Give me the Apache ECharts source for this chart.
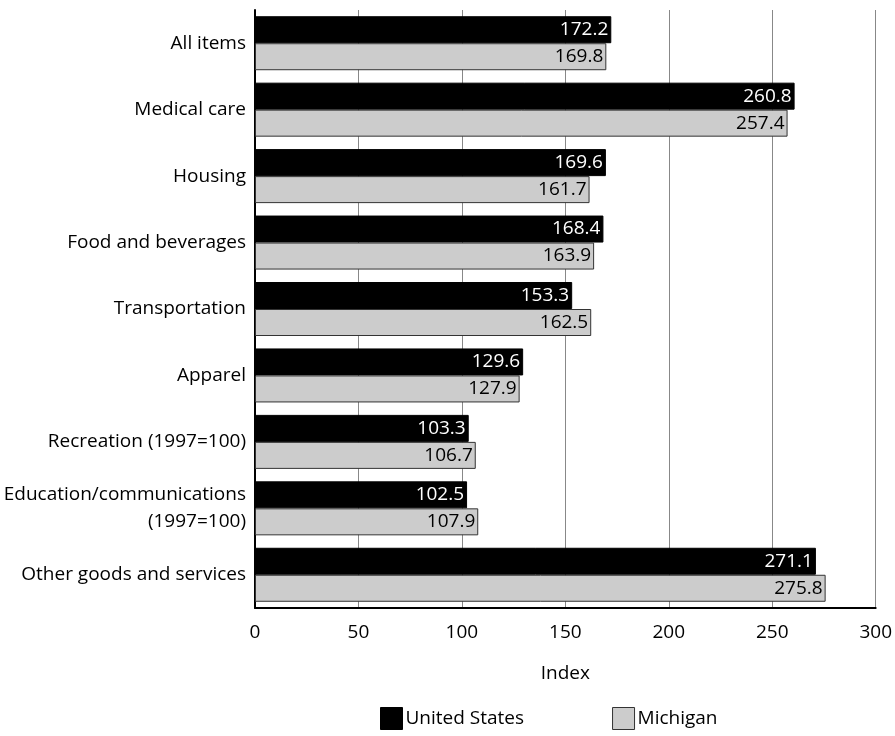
<!DOCTYPE html>
<html>
<head>
<meta charset="utf-8">
<script src="https://cdn.jsdelivr.net/npm/echarts@6/dist/echarts.min.js"></script>
<style>
html,body{margin:0;padding:0;background:#fff;}
#chart{width:895px;height:736px;}
</style>
</head>
<body>
<div id="chart"></div>
<script>
// Consumer price index by expenditure category
const categories = [
  'All items',
  'Medical care',
  'Housing',
  'Food and beverages',
  'Transportation',
  'Apparel',
  'Recreation (1997=100)',
  'Education/communications\n(1997=100)',
  'Other goods and services'
];
const usValues = [172.2, 260.8, 169.6, 168.4, 153.3, 129.6, 103.3, 102.5, 271.1];
const michiganValues = [169.8, 257.4, 161.7, 163.9, 162.5, 127.9, 106.7, 107.9, 275.8];
const xTicks = [0, 50, 100, 150, 200, 250, 300];

const FONT = '"Open Sans", Lato, sans-serif';
const FS = 19;

const chart = echarts.init(document.getElementById('chart'), null, {renderer: 'canvas'});
chart.setOption({
  animation: false,
  backgroundColor: '#ffffff',
  textStyle: {fontFamily: FONT},
  grid: {left: 255, right: 19, top: 10, bottom: 128, containLabel: false},
  legend: {
    bottom: 6,
    left: 380,
    padding: 0,
    itemWidth: 22,
    itemHeight: 22,
    itemGap: 88,
    icon: 'rect',
    textStyle: {fontFamily: FONT, fontSize: FS, color: '#000', padding: [0, 0, 0, -2]},
    data: [
      {name: 'United States', itemStyle: {color: '#000', borderColor: '#000', borderWidth: 1}},
      {name: 'Michigan', itemStyle: {color: '#cccccc', borderColor: '#333', borderWidth: 1}}
    ]
  },
  xAxis: {
    type: 'value',
    min: xTicks[0],
    max: xTicks[xTicks.length - 1],
    interval: xTicks[1] - xTicks[0],
    name: 'Index',
    nameLocation: 'middle',
    nameGap: 56,
    nameTextStyle: {fontFamily: FONT, fontSize: FS, color: '#000'},
    axisLine: {show: true, onZero: false, lineStyle: {color: '#000', width: 2}},
    axisTick: {show: false},
    axisLabel: {fontFamily: FONT, fontSize: FS, color: '#000', margin: 15},
    splitLine: {show: true, lineStyle: {color: '#888', width: 1}}
  },
  yAxis: {
    type: 'category',
    data: categories,
    inverse: true,
    axisLine: {show: true, lineStyle: {color: '#000', width: 2}},
    axisTick: {show: false},
    axisLabel: {fontFamily: FONT, fontSize: FS, color: '#000', margin: 9, align: 'right', lineHeight: 27},
    splitLine: {show: false}
  },
  series: [
    {
      name: 'United States',
      type: 'bar',
      data: usValues,
      barWidth: 27,
      barGap: '0%',
      itemStyle: {color: '#000', borderColor: '#000', borderWidth: 1},
      label: {
        show: true,
        position: 'insideRight',
        distance: 3,
        color: '#fff',
        fontFamily: FONT,
        fontSize: FS,
        formatter: p => p.value.toFixed(1)
      }
    },
    {
      name: 'Michigan',
      type: 'bar',
      data: michiganValues,
      barWidth: 27,
      barGap: '0%',
      itemStyle: {color: '#cccccc', borderColor: '#333', borderWidth: 1},
      label: {
        show: true,
        position: 'insideRight',
        distance: 3,
        color: '#000',
        fontFamily: FONT,
        fontSize: FS,
        formatter: p => p.value.toFixed(1)
      }
    }
  ]
});
</script>
</body>
</html>
